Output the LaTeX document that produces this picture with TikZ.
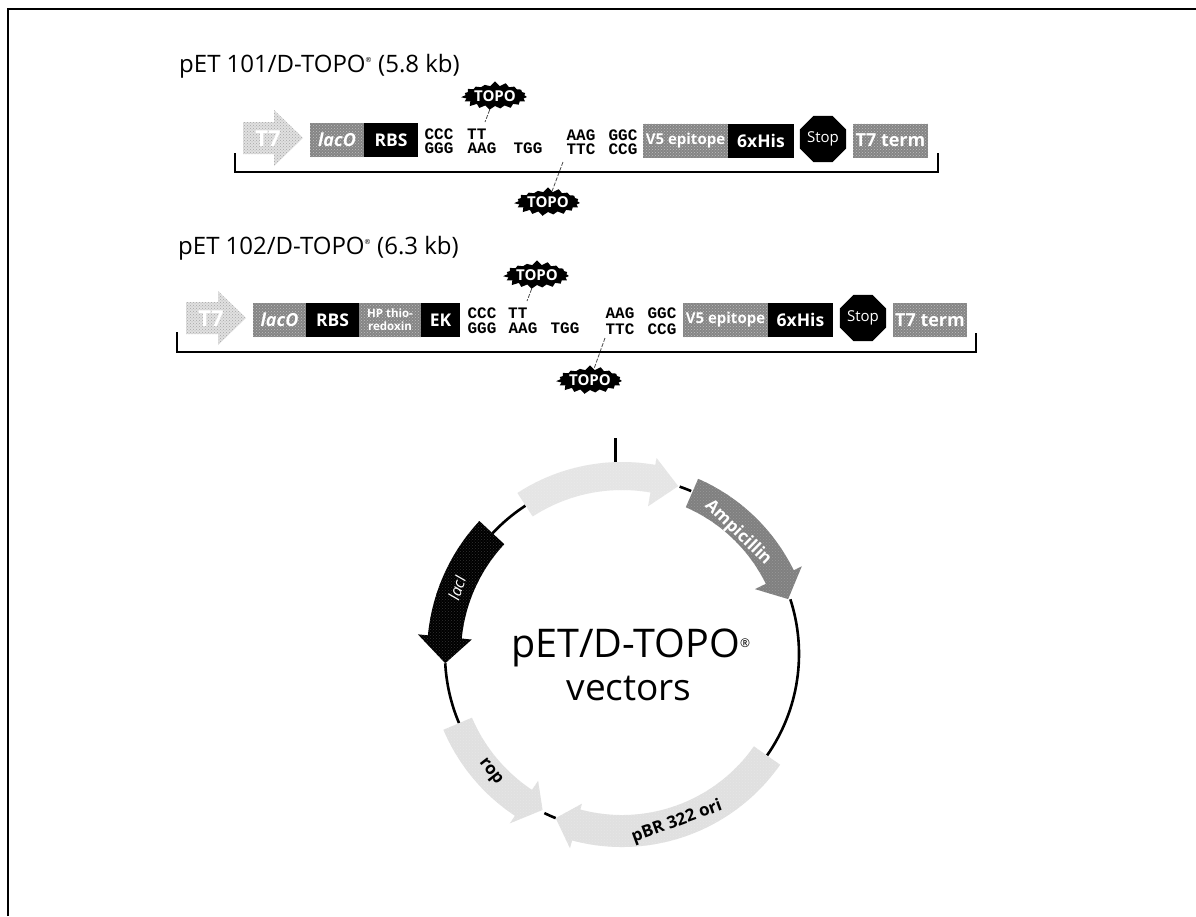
\documentclass[tikz,border=0pt]{standalone}
\usepackage{fontspec}
\setmainfont{Open Sans}
\newfontfamily\dnafont{Liberation Mono}
\usetikzlibrary{shapes.geometric,shapes.symbols,patterns}
\definecolor{gMid}{gray}{0.52}
\definecolor{gDark}{gray}{0.5}
\definecolor{gLight}{gray}{0.88}
\definecolor{gPale}{gray}{0.9}
\tikzset{
  x=1pt,y=1pt,
  titletext/.style={anchor=base west,inner sep=0pt,font=\fontsize{24}{26}\selectfont},
  grayseg/.style={draw=none,fill=gMid,postaction={pattern=crosshatch dots,pattern color=white!75!black},minimum height=34pt,inner sep=0pt,text=white,font=\bfseries\fontsize{15}{16}\selectfont},
  blackseg/.style={draw=none,fill=black,minimum height=34pt,inner sep=0pt,text=white,font=\bfseries\fontsize{17.5}{19}\selectfont},
  stopsign/.style={regular polygon,regular polygon sides=8,fill=black,text=white,inner sep=0pt,minimum size=50pt,font=\fontsize{15}{16}\selectfont},
  topoburst/.style={starburst,starburst points=19,starburst point height=5pt,random starburst=7,fill=black,text=white,inner sep=0pt,minimum width=62pt,minimum height=30pt,font=\bfseries\fontsize{15}{16}\selectfont},
  dna/.style={inner sep=0pt,font=\dnafont\bfseries\fontsize{16}{17}\selectfont},
  bracketline/.style={draw=black,line width=1.5pt},
  topolink/.style={draw=black!70,line width=0.8pt,dash pattern=on 4pt off 1.5pt},
  backbone/.style={draw=black,line width=2.6pt},
  featlabel/.style={inner sep=0pt},
  t7label/.style={text=white,font=\bfseries\fontsize{22}{24}\selectfont,inner sep=0pt},
}
% centre of the plasmid ring
\def\cx{622}\def\cy{-654}
% \ringarrow{tail angle}{head-base angle}{tip angle}{r in}{r out}{head r in}{head r out}{tip r}{colour}
\newcommand{\ringarrow}[9]{%
  \fill[#9] ([shift={(\cx,\cy)}]#1:#5)
    arc[start angle=#1,end angle=#2,radius=#5]
    -- ([shift={(\cx,\cy)}]#2:#7)
    -- ([shift={(\cx,\cy)}]#3:#8)
    -- ([shift={(\cx,\cy)}]#2:#6)
    -- ([shift={(\cx,\cy)}]#2:#4)
    arc[start angle=#2,end angle=#1,radius=#4] -- cycle;
  \fill[pattern=crosshatch dots,pattern color=#9!80!white] ([shift={(\cx,\cy)}]#1:#5)
    arc[start angle=#1,end angle=#2,radius=#5]
    -- ([shift={(\cx,\cy)}]#2:#7)
    -- ([shift={(\cx,\cy)}]#3:#8)
    -- ([shift={(\cx,\cy)}]#2:#6)
    -- ([shift={(\cx,\cy)}]#2:#4)
    arc[start angle=#2,end angle=#1,radius=#4] -- cycle;}
\newcommand{\ringline}[2]{\draw[backbone] ([shift={(\cx,\cy)}]#1:177) arc[start angle=#1,end angle=#2,radius=177];}
% \maparrow{base x}{headbase x}{tip x}{mid y}{half body}{half head}
\newcommand{\maparrow}[6]{%
  \fill[gLight] (#1,#4+#5) -- (#2,#4+#5) -- (#2,#4+#6) -- (#3,#4) -- (#2,#4-#6) -- (#2,#4-#5) -- (#1,#4-#5) -- cycle;
  \fill[pattern=crosshatch dots,pattern color=gray!70] (#1,#4+#5) -- (#2,#4+#5) -- (#2,#4+#6) -- (#3,#4) -- (#2,#4-#6) -- (#2,#4-#5) -- (#1,#4-#5) -- cycle;}
\begin{document}
\begin{tikzpicture}
\useasboundingbox (0,-916) rectangle (1196,0);
\fill[white] (0,-916) rectangle (1196,0);
\draw[black,line width=2.2pt] (8,-916) -- (8,-9) -- (1196,-9);

% ---------- pET101 ----------
\node[titletext] (title1) at (179,-72) {pET 101/D-TOPO\textsuperscript{\scriptsize ®} (5.8 kb)};
\maparrow{243}{274}{303}{-138}{16}{28}
\node[t7label] (t7a) at (268,-139) {T7};
\node[grayseg,minimum width=54pt,font=\itshape\bfseries\fontsize{18}{19}\selectfont] (laco1) at (337,-140) {lacO};
\node[blackseg,minimum width=54pt] (rbs1) at (391,-140) {RBS};
\node[dna] (c11) at (439,-134) {CCC};
\node[dna] (c12) at (439,-148) {GGG};
\node[dna,anchor=west] (c13) at (467,-134) {TT};
\node[dna] (c14) at (482,-148) {AAG};
\node[dna] (c15) at (528,-148) {TGG};
\node[dna] (c16) at (581,-135) {AAG};
\node[dna] (c17) at (581,-149) {TTC};
\node[dna] (c18) at (623,-135) {GGC};
\node[dna] (c19) at (623,-149) {CCG};
\node[grayseg,minimum width=85pt] (v51) at (685.5,-140.5) {V5 epitope};
\node[blackseg,minimum width=66pt] (his1) at (761,-140.5) {6xHis};
\node[stopsign] (stop1) at (823,-139) {Stop};
\node[grayseg,minimum width=75pt,font=\bfseries\fontsize{18}{19}\selectfont] (term1) at (890.5,-140.5) {T7 term};
\node[topoburst] (topoa) at (495,-96) {TOPO};
\node[topoburst] (topob) at (548,-202) {TOPO};
\coordinate (linka) at (485,-122);
\coordinate (linkb) at (563,-162);
\draw[topolink] (topoa) -- (linka);
\draw[topolink] (linkb) -- (topob);
\coordinate (br1a) at (235,-153);
\coordinate (br1b) at (938,-153);
\draw[bracketline] (br1a) -- (235,-172) -- (938,-172) -- (br1b);

% ---------- pET102 ----------
\node[titletext] (title2) at (178,-254) {pET 102/D-TOPO\textsuperscript{\scriptsize ®} (6.3 kb)};
\maparrow{186}{218}{246}{-318}{16}{27}
\node[t7label] (t7b) at (211,-319) {T7};
\node[grayseg,minimum width=53pt,font=\itshape\bfseries\fontsize{18}{19}\selectfont] (laco2) at (279.5,-320) {lacO};
\node[blackseg,minimum width=53pt] (rbs2) at (332.5,-320) {RBS};
\node[grayseg,minimum width=62pt,align=center,font=\bfseries\fontsize{11.5}{13}\selectfont] (hp) at (390,-320) {HP thio-\\redoxin};
\node[blackseg,minimum width=39pt] (ek) at (440.5,-320) {EK};
\node[dna] (c21) at (482,-313) {CCC};
\node[dna] (c22) at (482,-328) {GGG};
\node[dna,anchor=west] (c23) at (508,-313) {TT};
\node[dna] (c24) at (523,-328) {AAG};
\node[dna] (c25) at (565,-328) {TGG};
\node[dna] (c26) at (620,-313) {AAG};
\node[dna] (c27) at (620,-329) {TTC};
\node[dna] (c28) at (662,-313) {GGC};
\node[dna] (c29) at (662,-329) {CCG};
\node[grayseg,minimum width=85pt] (v52) at (725.5,-320) {V5 epitope};
\node[blackseg,minimum width=65pt] (his2) at (800.5,-320) {6xHis};
\node[stopsign] (stop2) at (863,-318) {Stop};
\node[grayseg,minimum width=74pt,font=\bfseries\fontsize{18}{19}\selectfont] (term2) at (930,-320) {T7 term};
\node[topoburst] (topoc) at (537,-275) {TOPO};
\node[topoburst] (topod) at (590,-380) {TOPO};
\coordinate (linkc) at (527,-301);
\coordinate (linkd) at (605,-338);
\draw[topolink] (topoc) -- (linkc);
\draw[topolink] (linkd) -- (topod);
\coordinate (br2a) at (177,-332);
\coordinate (br2b) at (976,-333);
\draw[bracketline] (br2a) -- (177,-352) -- (976,-352) -- (br2b);

% ---------- plasmid ring ----------
\ringline{71}{67}
\ringline{18}{-35}
\ringline{137}{123}
\ringline{183}{203}
\ringline{244}{248}
\coordinate (ticktop) at (615,-438);
\coordinate (tickbot) at (615,-462);
\draw[black,line width=3pt] (ticktop) -- (tickbot);
\ringarrow{123}{80}{71.5}{164}{192}{150}{199}{177}{gPale}
\ringarrow{66.5}{26}{18.3}{160}{191}{148}{200}{175}{gDark}
\ringarrow{137}{174.5}{183}{161}{195}{151}{205}{177}{black}
\ringarrow{203}{236.5}{243}{163}{194}{152}{203}{175}{gLight}
\ringarrow{-35}{-105}{-112}{161}{193}{155}{201}{177}{gLight}

\node[featlabel,text=white,rotate=-44,font=\bfseries\fontsize{17}{18}\selectfont] (amp) at (738,-533) {Ampicillin};
\node[featlabel,rotate=20,font=\bfseries\fontsize{17}{18}\selectfont] (ori) at (677,-822) {pBR 322 ori};
\node[featlabel,text=white,rotate=72,font=\itshape\fontsize{16}{18}\selectfont] (laci) at (457,-588) {lacI};
\node[featlabel,rotate=-52,font=\bfseries\fontsize{17}{18}\selectfont] (rop) at (490,-772) {rop};

\node[inner sep=0pt,anchor=base,font=\fontsize{39.5}{42}\selectfont] (name) at (631,-657) {pET/D-TOPO\textsuperscript{\large ®}};
\node[inner sep=0pt,anchor=base,font=\fontsize{37}{40}\selectfont] (vec) at (629,-700) {vectors};
\end{tikzpicture}
\end{document}
